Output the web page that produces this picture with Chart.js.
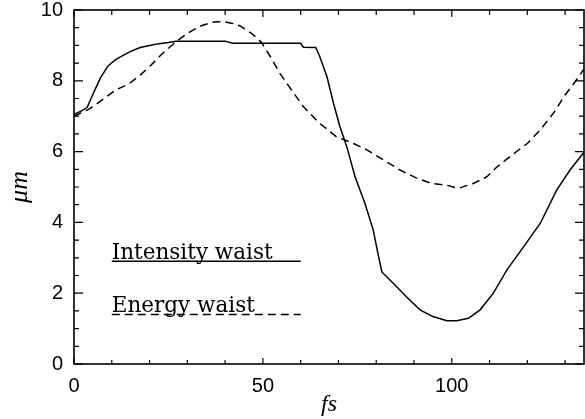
<!DOCTYPE html>
<html>
<head>
<meta charset="utf-8">
<script src="https://cdn.jsdelivr.net/npm/chart.js@4"></script>
<style>
  html, body { margin: 0; padding: 0; background: #fff; }
  #wrap { width: 585px; height: 419px; position: relative; }
</style>
</head>
<body>
<div id="wrap"><canvas id="c" width="585" height="419"></canvas></div>
<script>
// ---- data ----
const intensityX = [0, 2, 3.5, 5, 7, 9, 11, 13, 15, 17.5, 20, 22.5, 25, 27, 40, 42, 50, 60, 60.7, 64, 65, 67, 68.7, 70.4, 72.2, 74.4, 77, 79.2, 80.5, 81.5, 84.5, 88, 91.6, 95, 98.7, 101.3, 104.4, 107.5, 111, 114.6, 119, 123.4, 127.8, 131.3, 135];
const intensityY = [7.05, 7.15, 7.25, 7.62, 8.08, 8.42, 8.6, 8.72, 8.83, 8.94, 9.0, 9.05, 9.08, 9.12, 9.12, 9.06, 9.06, 9.06, 8.95, 8.94, 8.7, 8.1, 7.36, 6.7, 6.14, 5.29, 4.54, 3.79, 3.1, 2.6, 2.28, 1.9, 1.53, 1.34, 1.22, 1.22, 1.29, 1.53, 2.0, 2.66, 3.31, 3.97, 4.92, 5.48, 5.98];

const energyX = [0, 4, 8, 11, 14.5, 17.5, 20, 23.5, 26.5, 30, 33.5, 37, 39.5, 42, 44, 47, 49.5, 52, 54.5, 57, 60.7, 65, 69.5, 74, 77.5, 82, 86.3, 90.7, 94.7, 98.7, 101.7, 105.7, 109.3, 112, 115.4, 120, 123.4, 127, 130, 132.5, 135];
const energyY = [7.0, 7.2, 7.5, 7.74, 7.91, 8.16, 8.4, 8.78, 9.06, 9.34, 9.55, 9.66, 9.67, 9.62, 9.55, 9.34, 9.1, 8.68, 8.21, 7.83, 7.27, 6.8, 6.42, 6.23, 6.05, 5.76, 5.48, 5.25, 5.1, 5.05, 4.96, 5.1, 5.29, 5.57, 5.86, 6.23, 6.61, 7.1, 7.6, 7.95, 8.33];

const seriesNames = ["Intensity waist", "Energy waist"];
const xTickLabels = [0, 50, 100];
const yTickLabels = [0, 2, 4, 6, 8, 10];
const xTitle = "fs";
const yTitle = "\u03bcm";
// legend anchor (data coordinates)
const legendX = [10, 60];
const legendY = [2.9, 1.4];

const toPts = (xs, ys) => xs.map((x, i) => ({ x: x, y: ys[i] }));

// frame + inward ticks on all four sides
const framePlugin = {
  id: 'frame',
  afterDatasetsDraw(chart) {
    const { ctx, chartArea: a, scales: { x, y } } = chart;
    ctx.save();
    ctx.strokeStyle = '#000';
    ctx.lineWidth = 1.6;
    ctx.strokeRect(a.left, a.top, a.right - a.left, a.bottom - a.top);
    ctx.lineWidth = 1.2;
    ctx.beginPath();
    for (let v = 0; v <= 135; v += 10) {
      const px = x.getPixelForValue(v);
      const major = v % 50 === 0;
      const lb = major ? 6 : 4;
      const lt = major ? 7 : 5;
      ctx.moveTo(px, a.bottom); ctx.lineTo(px, a.bottom - lb);
      ctx.moveTo(px, a.top); ctx.lineTo(px, a.top + lt);
    }
    for (let v = 0; v <= 10.0001; v += 0.5) {
      const py = y.getPixelForValue(v);
      const major = Math.abs(v % 2) < 1e-6;
      const l = major ? 9 : 5;
      ctx.moveTo(a.left, py); ctx.lineTo(a.left + l, py);
      ctx.moveTo(a.right, py); ctx.lineTo(a.right - l, py);
    }
    ctx.stroke();
    ctx.restore();
  }
};

// in-plot legend: text sitting on its line sample
const legendPlugin = {
  id: 'inlegend',
  afterDatasetsDraw(chart) {
    const { ctx, scales: { x, y } } = chart;
    const x0 = x.getPixelForValue(legendX[0]);
    const x1 = x.getPixelForValue(legendX[1]);
    ctx.save();
    ctx.fillStyle = '#000';
    ctx.strokeStyle = '#000';
    ctx.font = '21.5px "DejaVu Serif"';
    ctx.textBaseline = 'alphabetic';
    ctx.textAlign = 'left';
    chart.data.datasets.forEach((ds, i) => {
      const py = y.getPixelForValue(legendY[i]);
      ctx.fillText(ds.label, x0, py - 2);
      ctx.lineWidth = 1.5;
      ctx.setLineDash(ds.borderDash || []);
      ctx.beginPath();
      ctx.moveTo(x0, py);
      ctx.lineTo(x1, py);
      ctx.stroke();
    });
    ctx.restore();
  }
};

new Chart(document.getElementById('c'), {
  type: 'line',
  data: {
    datasets: [
      {
        label: seriesNames[0],
        data: toPts(intensityX, intensityY),
        borderColor: '#000',
        borderWidth: 1.5,
        pointRadius: 0,
        tension: 0,
        fill: false
      },
      {
        label: seriesNames[1],
        data: toPts(energyX, energyY),
        borderColor: '#000',
        borderWidth: 1.5,
        borderDash: [8, 5],
        pointRadius: 0,
        tension: 0,
        fill: false
      }
    ]
  },
  options: {
    responsive: false,
    animation: false,
    devicePixelRatio: 1,
    layout: { padding: { top: 10, right: 1, left: 0, bottom: 0 } },
    plugins: { legend: { display: false }, tooltip: { enabled: false } },
    scales: {
      x: {
        type: 'linear',
        min: 0, max: 135,
        border: { display: false },
        grid: { display: false, drawTicks: false },
        afterBuildTicks(s) { s.ticks = xTickLabels.map(v => ({ value: v })); },
        afterFit(s) { s.height = 55; s.paddingLeft = 0; s.paddingRight = 0; },
        ticks: {
          padding: 10,
          maxRotation: 0,
          color: '#000',
          font: { family: '"Liberation Sans"', size: 20 },
          callback: v => String(v)
        },
        title: {
          display: true,
          text: xTitle,
          color: '#000',
          padding: { top: 0, bottom: 0 },
          font: { family: '"Liberation Serif"', size: 24, style: 'italic' }
        }
      },
      y: {
        type: 'linear',
        min: 0, max: 10,
        border: { display: false },
        grid: { display: false, drawTicks: false },
        afterBuildTicks(s) { s.ticks = yTickLabels.map(v => ({ value: v })); },
        afterFit(s) { s.width = 74; s.paddingTop = 0; s.paddingBottom = 0; },
        ticks: {
          padding: 11,
          color: '#000',
          font: { family: '"Liberation Sans"', size: 20 },
          callback: v => String(v)
        },
        title: {
          display: true,
          text: yTitle,
          color: '#000',
          padding: { top: 5, bottom: 0 },
          font: { family: '"Liberation Serif"', size: 26, style: 'italic' }
        }
      }
    }
  },
  plugins: [framePlugin, legendPlugin]
});
</script>
</body>
</html>
